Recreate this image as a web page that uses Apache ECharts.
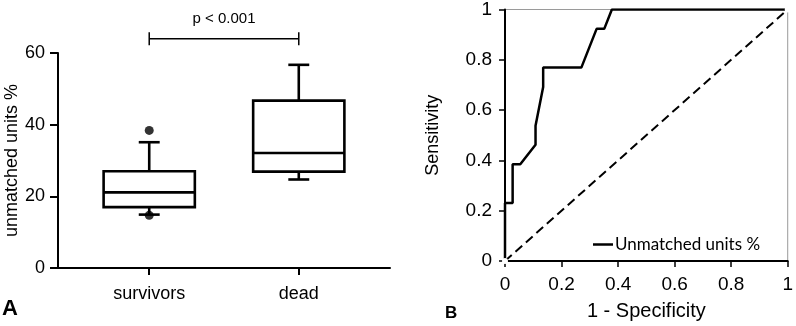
<!DOCTYPE html>
<html>
<head>
<meta charset="utf-8">
<script src="https://cdn.jsdelivr.net/npm/echarts@6/dist/echarts.min.js"></script>
<style>
  html, body { margin: 0; padding: 0; background: #fff; }
  #chart { width: 796px; height: 326px; }
</style>
</head>
<body>
<div id="chart"></div>
<script>
// panel A: box plot per group
const groups = ['survivors', 'dead'];
const whiskerLow = [14.9, 24.7];
const q1 = [17.0, 26.9];
const median = [21.1, 32.1];
const q3 = [27.0, 46.7];
const whiskerHigh = [35.1, 56.7];
const outliers = [[1, 38.4], [1, 14.7]];
const pText = 'p < 0.001';

// panel B: ROC curve
const rocFpr = [0, 0, 0.027, 0.027, 0.054, 0.108, 0.108, 0.135, 0.135, 0.27, 0.324, 0.351, 0.378, 1];
const rocTpr = [0, 0.231, 0.231, 0.385, 0.385, 0.462, 0.538, 0.692, 0.769, 0.769, 0.923, 0.923, 1, 1];
const chanceLine = [[0, 0], [1, 1]];

const FONT = "'Liberation Sans', Arial, sans-serif";
const chart = echarts.init(document.getElementById('chart'));

const boxData = groups.map((g, i) => [i + 1, whiskerLow[i], q1[i], median[i], q3[i], whiskerHigh[i]]);
const rocData = rocFpr.map((x, i) => [x, rocTpr[i]]);

function renderBox(params, api) {
    const x = api.value(0);
    const unit = api.size([1, 0])[0];
    const hb = unit * 0.305, hc = unit * 0.07;
    const pLow = api.coord([x, api.value(1)]);
    const pQ1 = api.coord([x, api.value(2)]);
    const pMed = api.coord([x, api.value(3)]);
    const pQ3 = api.coord([x, api.value(4)]);
    const pHigh = api.coord([x, api.value(5)]);
    const cx = pMed[0];
    const st = { stroke: '#000', lineWidth: 2.6, fill: null };
    const line = (x1, y1, x2, y2) => ({ type: 'line', shape: { x1, y1, x2, y2 }, style: st });
    return {
        type: 'group',
        children: [
            line(cx, pQ3[1], cx, pHigh[1]),
            line(cx - hc, pHigh[1], cx + hc, pHigh[1]),
            line(cx, pQ1[1], cx, pLow[1]),
            line(cx - hc, pLow[1], cx + hc, pLow[1]),
            { type: 'rect', shape: { x: cx - hb, y: pQ3[1], width: hb * 2, height: pQ1[1] - pQ3[1] },
              style: { fill: '#fff', stroke: '#000', lineWidth: 2.6 } },
            line(cx - hb, pMed[1], cx + hb, pMed[1])
        ]
    };
}

function renderBracket(params, api) {
    const a = api.coord([api.value(0), api.value(2)]);
    const b = api.coord([api.value(1), api.value(2)]);
    const st = { stroke: '#000', lineWidth: 1.5 };
    return {
        type: 'group',
        children: [
            { type: 'line', shape: { x1: a[0], y1: a[1], x2: b[0], y2: b[1] }, style: st },
            { type: 'line', shape: { x1: a[0], y1: a[1] - 6.5, x2: a[0], y2: a[1] + 6.5 }, style: st },
            { type: 'line', shape: { x1: b[0], y1: b[1] - 6.5, x2: b[0], y2: b[1] + 6.5 }, style: st },
            { type: 'text', x: (a[0] + b[0]) / 2, y: a[1] - 20,
              style: { text: pText, font: '15px ' + FONT, fill: '#000', align: 'center', verticalAlign: 'middle' } }
        ]
    };
}

const axisTextA = { color: '#000', fontSize: 18, fontFamily: FONT };

const option = {
    animation: false,
    textStyle: { fontFamily: FONT },
    grid: [
        { left: 58, right: 406, top: 53, bottom: 58 },
        { left: 505, right: 5, top: 9, bottom: 61, show: true, borderColor: '#9a9a9a', borderWidth: 1 }
    ],
    legend: {
        left: 588, top: 231,
        data: ['Unmatched units %'],
        icon: 'rect', itemWidth: 20, itemHeight: 2.5, itemGap: 4,
        textStyle: { color: '#000', fontSize: 17, fontFamily: "Lato, 'Open Sans', sans-serif", padding: [0, 0, 0, -3] }
    },
    xAxis: [
        {
            gridIndex: 0, type: 'value', min: 0.39, max: 2.61,
            splitLine: { show: false },
            axisLine: { lineStyle: { color: '#000', width: 2 } },
            axisTick: { customValues: [1, 2], length: 7, lineStyle: { color: '#000', width: 2 } },
            axisLabel: { customValues: [1, 2], formatter: v => groups[Math.round(v) - 1], margin: 17, ...axisTextA }
        },
        {
            gridIndex: 1, type: 'value', min: 0, max: 1, interval: 0.2,
            splitLine: { show: false },
            axisLine: { lineStyle: { color: '#000', width: 2 } },
            axisTick: { length: 6, lineStyle: { color: '#000', width: 1.5 } },
            axisLabel: { margin: 14, color: '#000', fontSize: 19, fontFamily: FONT },
            name: '1 - Specificity', nameLocation: 'middle', nameGap: 40,
            nameTextStyle: { color: '#000', fontSize: 20, fontFamily: FONT }
        }
    ],
    yAxis: [
        {
            gridIndex: 0, type: 'value', min: 0, max: 60, interval: 20,
            splitLine: { show: false },
            axisLine: { show: true, lineStyle: { color: '#000', width: 2 } },
            axisTick: { show: true, length: 8, lineStyle: { color: '#000', width: 2 } },
            axisLabel: { margin: 13, ...axisTextA },
            name: 'unmatched units %', nameLocation: 'middle', nameGap: 37,
            nameTextStyle: { color: '#000', fontSize: 18, fontFamily: FONT }
        },
        {
            gridIndex: 1, type: 'value', min: 0, max: 1, interval: 0.2,
            splitLine: { show: false },
            axisLine: { show: true, lineStyle: { color: '#000', width: 2 } },
            axisTick: { show: true, length: 6, lineStyle: { color: '#000', width: 1.5 } },
            axisLabel: { margin: 13, color: '#000', fontSize: 19, fontFamily: FONT, formatter: v => String(+v.toFixed(1)) },
            name: 'Sensitivity', nameLocation: 'middle', nameGap: 63,
            nameTextStyle: { color: '#000', fontSize: 18, fontFamily: FONT }
        }
    ],
    series: [
        { type: 'custom', xAxisIndex: 0, yAxisIndex: 0, renderItem: renderBox, data: boxData, clip: false },
        { type: 'scatter', xAxisIndex: 0, yAxisIndex: 0, data: outliers, symbolSize: 9, itemStyle: { color: '#000' }, z: 5 },
        { type: 'custom', xAxisIndex: 0, yAxisIndex: 0, renderItem: renderBracket, data: [[1, 2, 64]], clip: false },
        {
            type: 'line', xAxisIndex: 1, yAxisIndex: 1, data: chanceLine,
            symbol: 'emptyCircle', symbolSize: 4, showSymbol: true,
            lineStyle: { color: '#000', width: 2, type: [9, 5] },
            itemStyle: { color: '#fff', borderColor: '#555', borderWidth: 1 }
        },
        {
            type: 'line', name: 'Unmatched units %', xAxisIndex: 1, yAxisIndex: 1, data: rocData,
            showSymbol: false, symbol: 'none', lineStyle: { color: '#000', width: 2.5 }, itemStyle: { color: '#000' }
        }
    ],
    graphic: [
        { type: 'text', left: 2, top: 298, style: { text: 'A', font: 'bold 22px ' + FONT, fill: '#000' } },
        { type: 'text', left: 445, top: 305, style: { text: 'B', font: 'bold 17px ' + FONT, fill: '#000' } }
    ]
};
chart.setOption(option);
</script>
</body>
</html>
